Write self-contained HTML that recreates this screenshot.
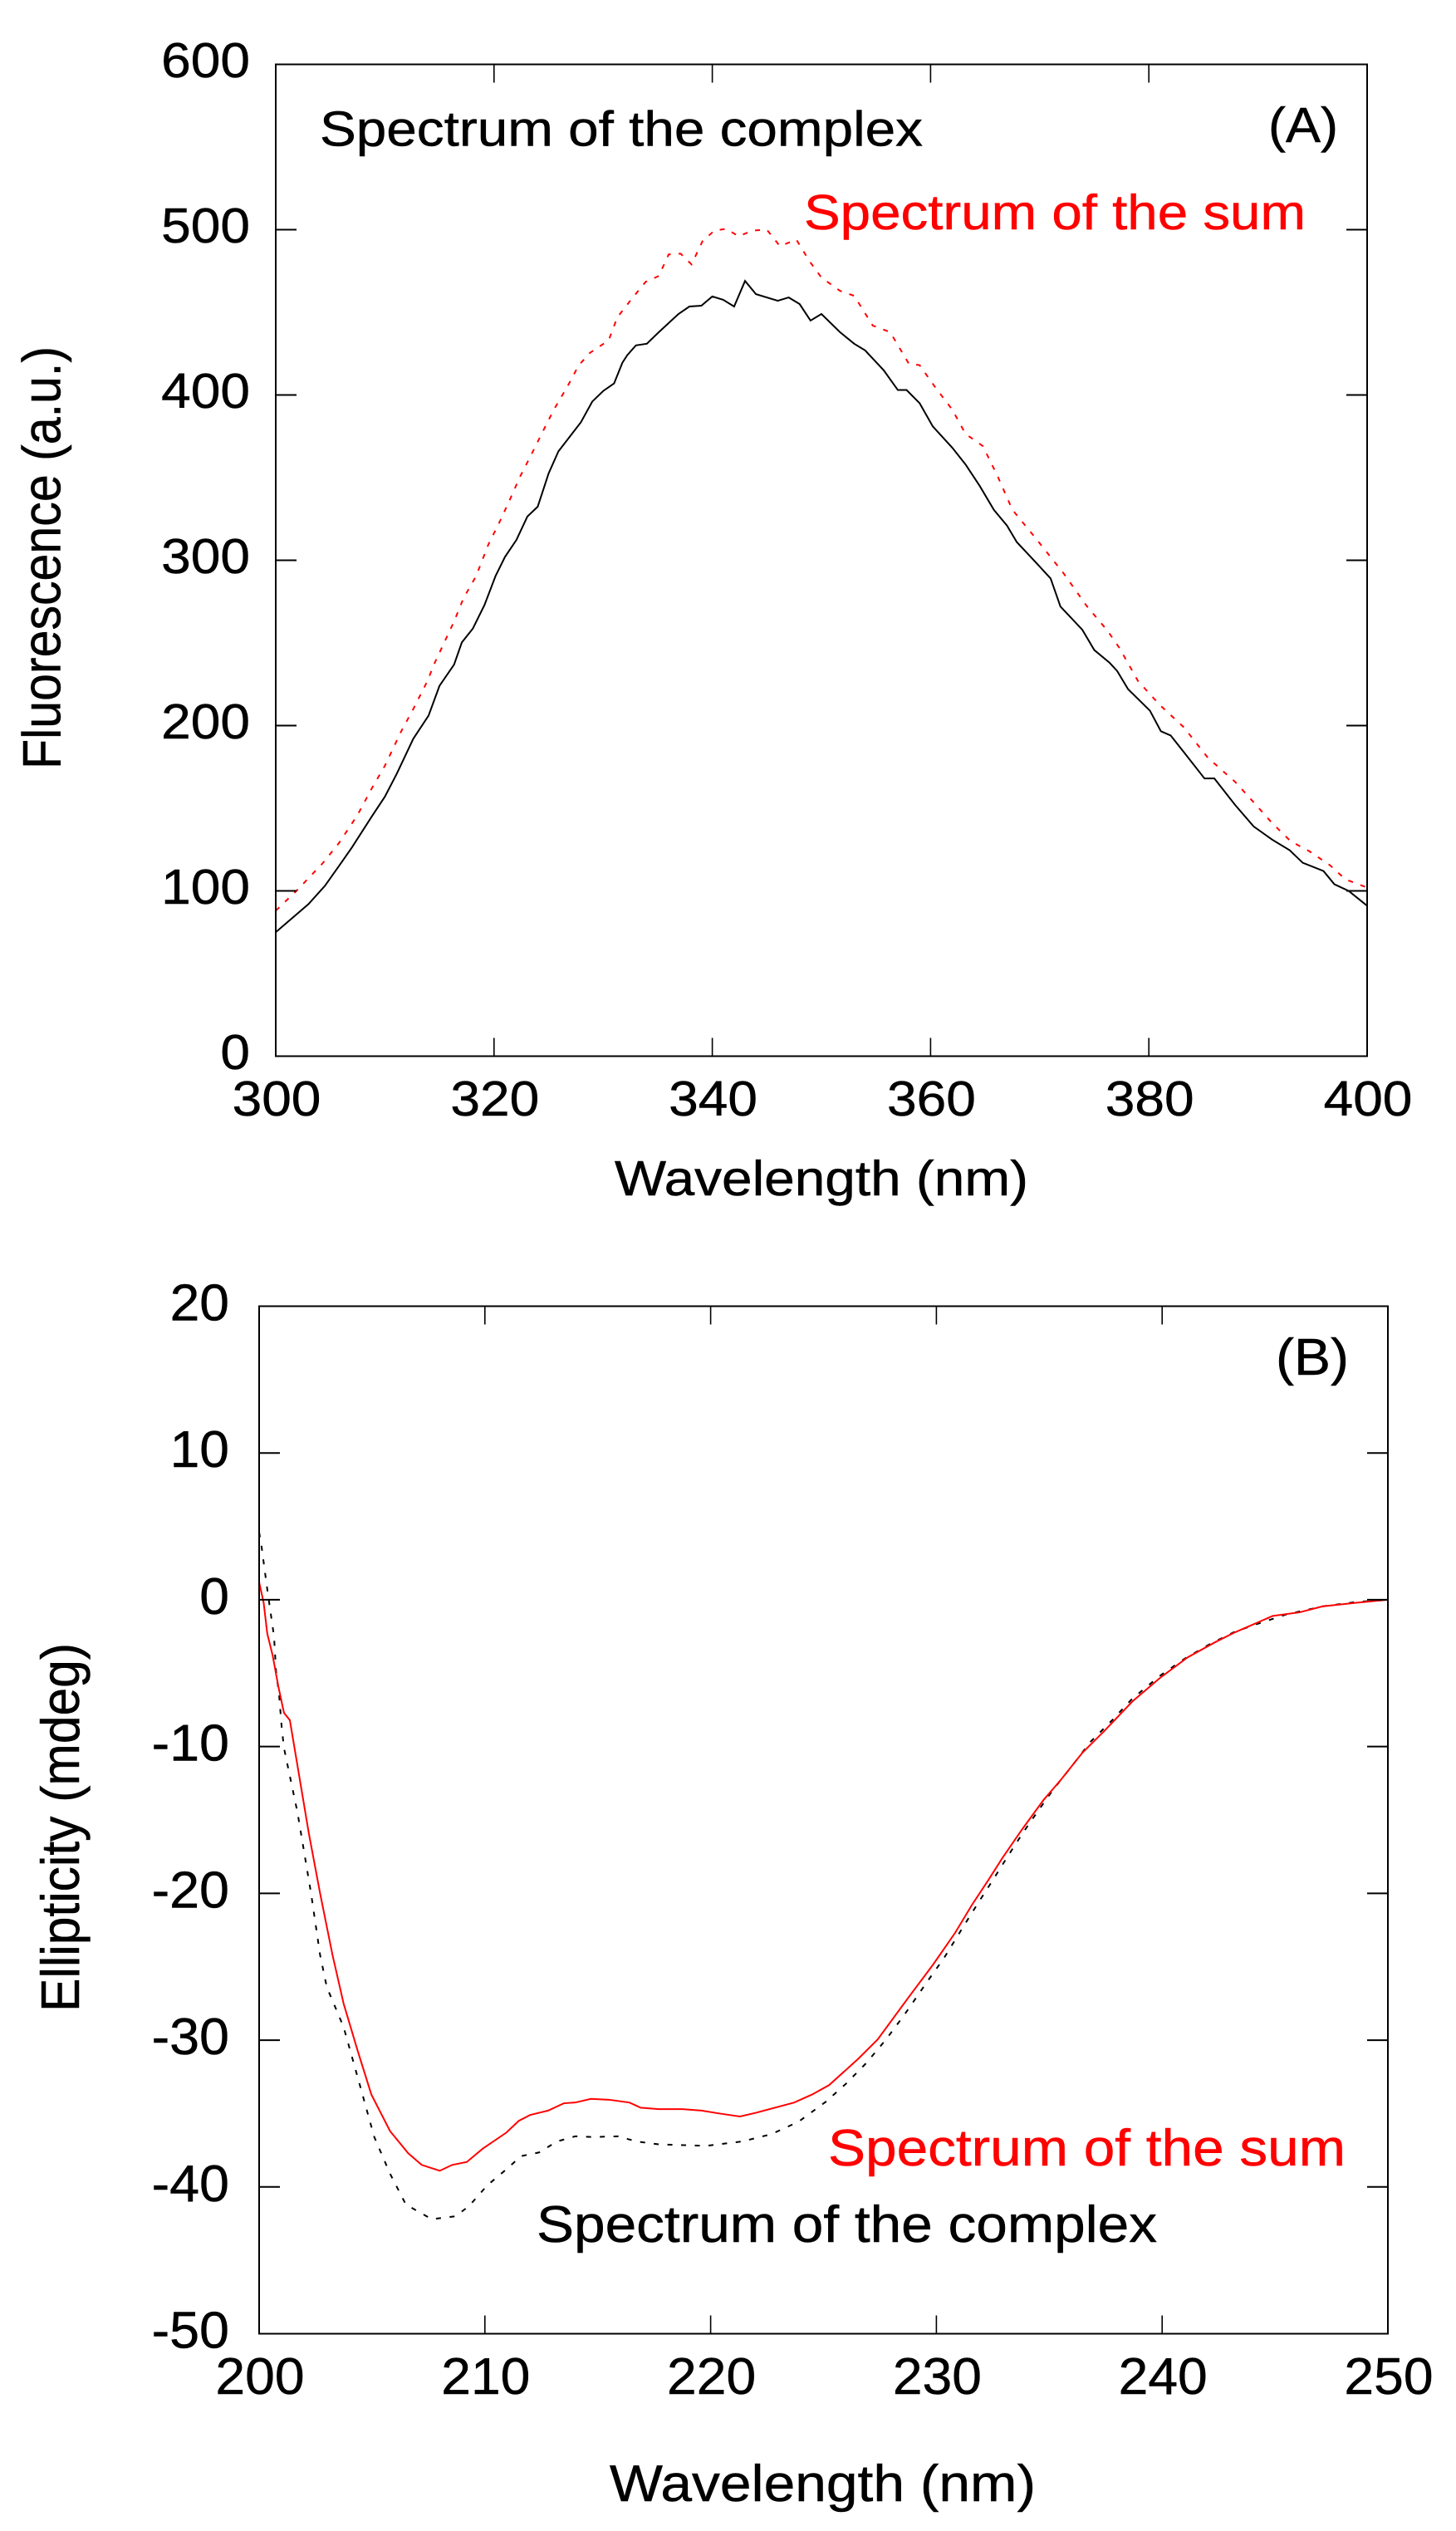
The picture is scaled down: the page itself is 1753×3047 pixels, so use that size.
<!DOCTYPE html>
<html lang="en">
<head>
<meta charset="utf-8">
<title>Fluorescence and ellipticity spectra</title>
<style>
html,body{margin:0;padding:0;background:#fff;}
svg{display:block;}
text{font-family:"Liberation Sans",Arial,sans-serif;stroke-width:0.5px;}
</style>
</head>
<body>
<svg id="figure" xmlns="http://www.w3.org/2000/svg" width="1753" height="3047" viewBox="0 0 1753 3047">
  <rect x="0" y="0" width="1753" height="3047" fill="#fff"/>
  <g id="panelA"></g>
  <g id="panelB"></g>
</svg>
<script>
// Panel A: tick labels
const aXTicks = [300, 320, 340, 360, 380, 400];
const aYTicks = [0, 100, 200, 300, 400, 500, 600];
// Panel A: complex spectrum (black solid)
const aComplexNm = [300,303,304.5,306,307,308.8,310,311.1,312.6,314,315,316.34,317.05,318.06,319.13,320.14,321,322.05,323.06,324,325,325.9,327.96,329,330,331,331.76,332.2,333,334,335.1,336.9,337.9,339,340,341,342,343,344,346,347,348,349,350,351.7,353,354,355.7,357,357.8,359,360.2,362,363.2,364.5,365.8,367,367.9,369.6,371,371.9,373.9,375,376.4,377.1,378.1,380.1,381.1,382,383.2,385.1,386,387.9,389.6,391.3,392.9,394.1,396,397,398.3,400];
const aComplexValues = [75,92,103,117,126.5,145,157,171,192,206,224,236.9,250.3,258.7,273,290.5,302,312.3,326.5,332.4,352.5,365.9,383.5,396,402.4,407,419.5,424,430,431,438,449,453.5,454,459.6,457.6,453.5,469,461,457,459,455,445,449,438,431,427,415,403,403,395,381,368,358,345,330.5,321,311,299,289,272,258,245.7,238,233,222,209,196.6,194,184,168,168,152,139,131,124.6,117,112,104,100,91];
// Panel A: sum spectrum (red dotted)
const aSumNm = [300,302,304.3,305.8,307.5,308.8,310,311.5,312.6,313.9,314.5,316.34,317.2,318.36,319.5,320.5,321.5,322.4,323.44,324.45,325.47,326.74,327.75,328.77,330.5,331.3,332.6,333.9,335.1,336,337.1,338.1,339.1,340.2,341.3,342.4,343.7,345,346.2,347.7,348.9,350,351.7,353,354.7,356.3,358,359,360.5,362,363.2,364.8,366.2,367.5,369.6,372.2,374.3,376.2,377.3,379,381,383.2,385.4,387.9,389.6,391.3,393,394.7,396.6,398,400];
const aSumValues = [88,100.7,116.7,129,146,162,175.7,196.6,210,227,237,263,277,290.5,309.8,323,337.4,350.8,364.2,377.6,391,405.3,417.8,425.4,433,447,458,468.5,472,485,485.5,479,493,499.5,500.5,496,499.5,500,490,494,481,471,463,460,442,438,419,418,404,391,376.5,369,350,330.5,313.6,292,272.4,257.5,247,227,212.5,199,180.6,166,153.6,141,130,124,115.5,107,102];

// Panel B: tick labels
const bXTicks = [200, 210, 220, 230, 240, 250];
const bYTicks = [-50, -40, -30, -20, -10, 0, 10, 20];
// Panel B: sum spectrum (red solid)
const bSumNm = [200,200.2,200.36,200.6,200.85,201.1,201.36,201.6,202.2,202.7,203.25,203.74,204.36,204.97,205.8,206.6,207.2,208,208.55,209.2,209.9,210.95,211.5,212,212.8,213.5,214,214.7,215.5,216.4,216.9,217.7,218.75,219.6,220.4,221.3,222,223.7,224.5,225.25,226.54,227.4,228.75,229.85,230.83,231.57,232.3,232.92,233.77,234.75,235.49,236.47,237.45,238.68,239.9,241.13,242.36,243.22,244.08,244.9,246.1,247.1,248.6,250];
const bSumValues = [1.2,-0.2,-2.3,-3.8,-5.9,-7.7,-8.2,-10.4,-15.9,-20,-24.2,-27.5,-30.7,-33.7,-36.2,-37.7,-38.5,-38.9,-38.5,-38.3,-37.4,-36.3,-35.5,-35.1,-34.8,-34.3,-34.25,-34,-34.06,-34.25,-34.6,-34.7,-34.7,-34.8,-35,-35.2,-34.95,-34.25,-33.7,-33.06,-31.27,-29.95,-27.12,-24.86,-22.69,-20.8,-19.1,-17.6,-15.7,-13.63,-12.31,-10.42,-8.92,-6.93,-5.33,-3.92,-2.88,-2.22,-1.65,-1.1,-0.85,-0.45,-0.2,0];
// Panel B: complex spectrum (black dotted)
const bComplexNm = [200,200.1,200.37,200.66,200.75,200.88,201,201.1,201.7,202.3,202.7,203,203.74,204.36,205.1,205.8,206.5,207.65,208.7,209.3,210.1,210.95,211.6,212.4,213.2,214,214.8,215.9,216.7,217.7,219.8,221.4,222.7,223.9,225.1,226.01,226.9,227.77,228.57,229.6,230.34,231.26,231.87,232.5,233.15,233.84,234.5,235.2,235.98,236.83,237.75,238.67,239.9,241,242.1,243.16,244.08,245.5,247.1,248.6,250];
const bComplexValues = [4.6,3.7,0.6,-2.5,-4.9,-6.4,-8.7,-10.1,-14.5,-20,-24.2,-26.4,-29.1,-32.5,-36.6,-39.1,-41.2,-42.2,-42,-41.3,-39.9,-38.8,-37.9,-37.65,-36.9,-36.55,-36.6,-36.55,-36.9,-37.1,-37.2,-36.9,-36.4,-35.55,-34.2,-32.95,-31.55,-29.95,-28.3,-26,-24.4,-22.1,-20.6,-19.1,-17.5,-15.86,-14.39,-12.88,-11.37,-9.67,-8.26,-6.75,-5.18,-4.01,-3.03,-2.22,-1.71,-1,-0.45,-0.15,0];

const NS = 'http://www.w3.org/2000/svg';

function makeEl(tag, parent, props) {
  const el = document.createElementNS(NS, tag);
  for (const k in props) el.setAttribute(k, props[k]);
  parent.appendChild(el);
  return el;
}

function makeText(parent, str, x, y, size, width, fill, rotated) {
  const t = makeEl('text', parent, {
    'font-size': size,
    fill: fill,
    stroke: fill,
    textLength: width,
    lengthAdjust: 'spacingAndGlyphs'
  });
  if (rotated) {
    t.setAttribute('transform', 'translate(' + x + ',' + y + ') rotate(-90)');
  } else {
    t.setAttribute('x', x);
    t.setAttribute('y', y);
  }
  t.textContent = str;
  return t;
}

function linePath(xs, ys, sx, sy) {
  return xs.map((v, i) => (i ? 'L' : 'M') + sx(v).toFixed(2) + ' ' + sy(ys[i]).toFixed(2)).join(' ');
}

function drawFrame(parent, box, xTicks, yTicks, sx, sy) {
  const frame = makeEl('rect', parent, {
    x: box.left, y: box.top, width: box.right - box.left, height: box.bottom - box.top,
    fill: 'none', stroke: '#000', 'stroke-width': 2
  });
  
  

  xTicks.forEach(v => {
    if (v === xTicks[0] || v === xTicks[xTicks.length - 1]) return;
    const x = sx(v);
    const bottomTick = makeEl('line', parent, { x1: x, x2: x, y1: box.bottom, y2: box.bottom - 22, stroke: '#000', 'stroke-width': 1.6 });
    
    
    const topTick = makeEl('line', parent, { x1: x, x2: x, y1: box.top, y2: box.top + 22, stroke: '#000', 'stroke-width': 1.6 });
    
    
  });
  yTicks.forEach(v => {
    if (v === yTicks[0] || v === yTicks[yTicks.length - 1]) return;
    const y = sy(v);
    const leftTick = makeEl('line', parent, { x1: box.left, x2: box.left + 25, y1: y, y2: y, stroke: '#000', 'stroke-width': 2 });
    
    
    const rightTick = makeEl('line', parent, { x1: box.right, x2: box.right - 25, y1: y, y2: y, stroke: '#000', 'stroke-width': 2 });
    
    
  });
}

function drawTickLabels(parent, box, xTicks, yTicks, sx, sy, st) {
  xTicks.forEach(v => {
    const s = String(v);
    const w = s.length * st.digit;
    const t = makeText(parent, s, sx(v) - w / 2 + 1, box.bottom + st.xBase, st.size, w, '#000');
    
    
  });
  yTicks.forEach(v => {
    const s = String(v);
    const w = (v < 0 ? st.minus + (s.length - 1) * st.digit : s.length * st.digit);
    const t = makeText(parent, s, st.yRight - w, sy(v) + st.yBase, st.size, w, '#000');
    
    
  });
}

// ---------- Panel A ----------
const boxA = { left: 332, right: 1646, top: 77.5, bottom: 1271.5 };
const xA = v => boxA.left + (v - 300) / 100 * (boxA.right - boxA.left);
const yA = v => boxA.bottom - v / 600 * (boxA.bottom - boxA.top);
const gA = document.getElementById('panelA');

const aSumLine = makeEl('path', gA, { d: linePath(aSumNm, aSumValues, xA, yA), fill: 'none', stroke: '#ff0000', 'stroke-width': 2, 'stroke-dasharray': '6 9.5' });


const aComplexLine = makeEl('path', gA, { d: linePath(aComplexNm, aComplexValues, xA, yA), fill: 'none', stroke: '#000', 'stroke-width': 2 });


drawFrame(gA, boxA, aXTicks, aYTicks, xA, yA);
drawTickLabels(gA, boxA, aXTicks, aYTicks, xA, yA, { size: 59, digit: 35.6, minus: 20, xBase: 71.5, yBase: 15.5, yRight: 301 });

const aXTitle = makeText(gA, 'Wavelength (nm)', 740, 1439, 59, 498, '#000');


const aYTitle = makeText(gA, 'Fluorescence (a.u.)', 72.5, 926, 65, 509, '#000', true);


const aLabelComplex = makeText(gA, 'Spectrum of the complex', 385, 175.5, 59, 726, '#000');


const aLabelSum = makeText(gA, 'Spectrum of the sum', 968, 276, 59, 604, '#ff0000');


const aPanelLabel = makeText(gA, '(A)', 1527, 171, 59, 84, '#000');



// ---------- Panel B ----------
const boxB = { left: 312, right: 1671, top: 1572.5, bottom: 2809.5 };
const xB = v => boxB.left + (v - 200) / 50 * (boxB.right - boxB.left);
const yB = v => boxB.top + (20 - v) / 70 * (boxB.bottom - boxB.top);
const gB = document.getElementById('panelB');

const bComplexLine = makeEl('path', gB, { d: linePath(bComplexNm, bComplexValues, xB, yB), fill: 'none', stroke: '#000', 'stroke-width': 2, 'stroke-dasharray': '6 10.5' });


const bSumLine = makeEl('path', gB, { d: linePath(bSumNm, bSumValues, xB, yB), fill: 'none', stroke: '#ff0000', 'stroke-width': 2 });


drawFrame(gB, boxB, bXTicks, bYTicks, xB, yB);
drawTickLabels(gB, boxB, bXTicks, bYTicks, xB, yB, { size: 62, digit: 35.7, minus: 22, xBase: 72.5, yBase: 17, yRight: 276 });

const bXTitle = makeText(gB, 'Wavelength (nm)', 734, 3011, 62, 513, '#000');


const bYTitle = makeText(gB, 'Ellipticity (mdeg)', 95, 2422, 65, 444, '#000', true);


const bLabelSum = makeText(gB, 'Spectrum of the sum', 997, 2607, 62, 623, '#ff0000');


const bLabelComplex = makeText(gB, 'Spectrum of the complex', 646, 2699, 62, 747, '#000');


const bPanelLabel = makeText(gB, '(B)', 1536, 1655, 62, 88, '#000');


</script>
</body>
</html>
